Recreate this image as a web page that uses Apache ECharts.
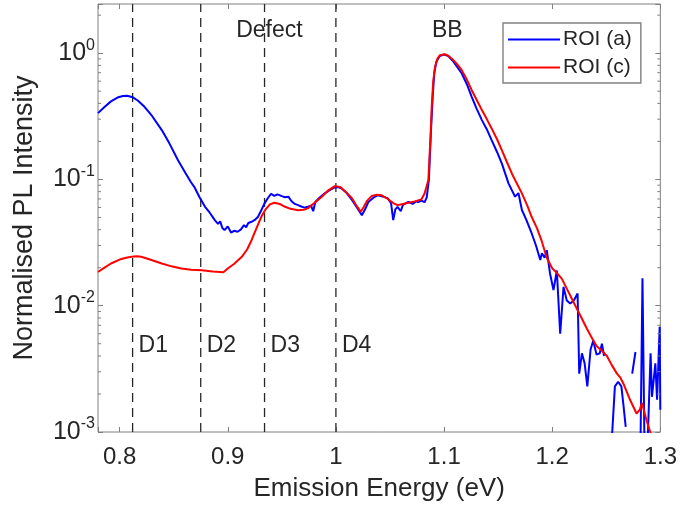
<!DOCTYPE html>
<html>
<head>
<meta charset="utf-8">
<script src="https://cdn.jsdelivr.net/npm/echarts@6/dist/echarts.min.js"></script>
<style>
  html, body { margin: 0; padding: 0; background: #fff; }
  #chart { width: 680px; height: 512px; }
</style>
</head>
<body>
<div id="chart"></div>
<script>
// Photoluminescence spectra, normalised to the band-to-band (BB) peak.
const energyA = [0.780,0.786,0.792,0.798,0.803,0.807,0.812,0.817,0.823,0.830,0.839,0.846,0.854,0.861,0.866,0.869,0.874,0.879,0.883,0.886,0.888,0.891,0.893,0.895,0.897,0.900,0.903,0.906,0.909,0.912,0.915,0.917,0.919,0.922,0.925,0.928,0.931,0.934,0.937,0.940,0.943,0.946,0.950,0.953,0.956,0.959,0.962,0.965,0.968,0.971,0.974,0.977,0.979,0.981,0.985,0.990,0.995,0.999,1.002,1.005,1.010,1.015,1.020,1.024,1.027,1.030,1.035,1.039,1.044,1.048,1.051,1.053,1.055,1.057,1.060,1.062,1.067,1.071,1.074,1.076,1.079,1.082,1.084,1.086,1.088,1.0895,1.091,1.093,1.096,1.100,1.104,1.108,1.112,1.1164,1.121,1.1256,1.130,1.135,1.140,1.144,1.149,1.1534,1.1596,1.1657,1.1688,1.172,1.176,1.181,1.185,1.189,1.1905,1.193,1.195,1.198,1.2012,1.2043,1.2074,1.2105,1.2135,1.2167,1.2200,1.2235,1.2250,1.2275,1.2300,1.2325,1.2355,1.2380,1.2410,1.2440,1.2460,1.2480,1.2505,1.2545,1.2580,1.2610,1.2640,1.2660,1.2680,1.2710,1.2740,1.2770,1.2790,1.2815,1.2835,1.2855,1.2880,1.2910,1.2923,1.2954,1.2970,1.2994,1.3000];
const intensityA = [0.335,0.375,0.415,0.445,0.458,0.460,0.448,0.420,0.376,0.318,0.246,0.193,0.142,0.112,0.095,0.0874,0.072,0.0607,0.055,0.0505,0.0476,0.0445,0.0465,0.0412,0.0397,0.0425,0.0380,0.0392,0.0385,0.0400,0.0435,0.0418,0.0452,0.0462,0.0478,0.0506,0.0570,0.0646,0.0710,0.0770,0.0740,0.0762,0.0738,0.0722,0.0730,0.0672,0.0640,0.0626,0.0610,0.0598,0.0607,0.0620,0.0560,0.0663,0.0720,0.0780,0.0830,0.0864,0.0870,0.0850,0.0780,0.0686,0.0590,0.0520,0.0580,0.0663,0.0720,0.0750,0.0730,0.0707,0.0650,0.0476,0.0580,0.0607,0.0560,0.0630,0.0663,0.0640,0.0670,0.0663,0.0680,0.0660,0.0720,0.100,0.250,0.450,0.700,0.860,0.950,0.975,0.950,0.870,0.780,0.690,0.570,0.451,0.365,0.295,0.245,0.205,0.165,0.134,0.093,0.073,0.078,0.0573,0.0480,0.0375,0.0300,0.0230,0.0260,0.0240,0.0275,0.0180,0.0133,0.0190,0.0060,0.0141,0.0110,0.0104,0.0110,0.0125,0.0029,0.0042,0.0035,0.0023,0.0045,0.0053,0.0041,0.0042,0.0050,0.0040,null,0.0007,0.0023,0.0025,0.0023,0.0016,0.0011,null,0.0029,0.0043,null,0.0006,0.0165,0.0006,0.0007,0.0042,0.0019,0.0035,0.0018,0.0068,0.0015];

const energyC = [0.780,0.786,0.792,0.800,0.806,0.811,0.816,0.820,0.828,0.839,0.848,0.857,0.866,0.876,0.886,0.896,0.900,0.906,0.913,0.918,0.922,0.926,0.931,0.935,0.939,0.943,0.948,0.953,0.958,0.965,0.970,0.974,0.980,0.987,0.993,0.999,1.004,1.009,1.015,1.019,1.023,1.026,1.029,1.033,1.038,1.042,1.048,1.053,1.057,1.062,1.067,1.073,1.079,1.082,1.0855,1.0875,1.0886,1.090,1.0917,1.094,1.0963,1.1009,1.104,1.107,1.1115,1.1164,1.121,1.1256,1.130,1.135,1.140,1.144,1.149,1.1534,1.158,1.1627,1.167,1.172,1.177,1.181,1.186,1.190,1.195,1.200,1.2043,1.209,1.2136,1.219,1.223,1.2259,1.232,1.237,1.241,1.246,1.2506,1.255,1.2599,1.263,1.266,1.272,1.278,1.281,1.283,1.2877,1.2907,1.293];
const intensityC = [0.0185,0.0200,0.0216,0.0232,0.0240,0.0244,0.0246,0.0244,0.0232,0.0216,0.0205,0.0197,0.0193,0.0191,0.0187,0.0184,0.0197,0.0215,0.0244,0.0280,0.0330,0.0400,0.0506,0.0580,0.0635,0.0653,0.0640,0.0607,0.0585,0.0571,0.0575,0.0590,0.0650,0.0730,0.0820,0.0885,0.0870,0.0800,0.0707,0.0620,0.0554,0.0610,0.0680,0.0738,0.0755,0.0750,0.0700,0.0650,0.0626,0.0640,0.0653,0.0670,0.0693,0.0775,0.099,0.220,0.376,0.600,0.780,0.910,0.964,0.980,0.950,0.908,0.830,0.733,0.620,0.509,0.430,0.354,0.295,0.2535,0.208,0.1707,0.138,0.1115,0.094,0.0775,0.062,0.0506,0.041,0.0331,0.0240,0.0198,0.0182,0.0163,0.0136,0.0110,0.0094,0.0084,0.0066,0.0055,0.0048,0.0044,0.0040,0.0034,0.0029,0.0027,0.0024,0.0018,0.0014,0.0015,0.0017,0.0012,0.0010,0.0008];

// Defect-band positions (eV) marked with dashed lines
const defectNames = ['D1', 'D2', 'D3', 'D4'];
const defectEnergy = [0.812, 0.875, 0.934, 1.000];

const seriesNames = ['ROI (a)', 'ROI (c)'];
const xRange = [0.78, 1.3];
const yRange = [0.001, 2.45];

const FONT = '"Liberation Sans", Arial, Helvetica, sans-serif';
const TEXT = '#262626';
const AXIS = '#808080';

function pairs(xs, ys) {
  return xs.map((x, i) => [x, ys[i] == null ? '-' : ys[i]]);
}

// Vertical guide segments spanning the full y range, separated by gaps
const defectGuides = [];
defectEnergy.forEach(e => {
  defectGuides.push([e, yRange[0]], [e, yRange[1]], [e, '-']);
});

// Logarithmic minor tick values: 2..9 x each decade inside the range
const minorTickValues = [];
for (let k = -3; k <= 0; k++) {
  for (let m = 2; m <= 9; m++) {
    const v = m * Math.pow(10, k);
    if (v > yRange[0] && v < yRange[1]) minorTickValues.push(v);
  }
}

function isDecade(v) {
  const e = Math.log10(v);
  return Math.abs(e - Math.round(e)) < 1e-6;
}

const chart = echarts.init(document.getElementById('chart'), null, { renderer: 'canvas' });

const option = {
  backgroundColor: '#fff',
  animation: false,
  textStyle: { fontFamily: FONT, color: TEXT },
  grid: { left: 98, right: 19, top: 4, bottom: 80, show: true, borderColor: AXIS, borderWidth: 1, backgroundColor: 'transparent' },
  legend: {
    data: seriesNames,
    orient: 'vertical',
    left: 503,
    top: 23,
    padding: [6, 9, 5, 5],
    itemGap: 7,
    itemWidth: 52,
    itemHeight: 2,
    icon: 'rect',
    borderColor: '#808080',
    borderWidth: 1.4,
    backgroundColor: '#fff',
    textStyle: { fontFamily: FONT, fontSize: 21, color: TEXT, padding: [0, 0, 0, -2] }
  },
  xAxis: [
    {
      type: 'value', min: xRange[0], max: xRange[1],
      name: 'Emission Energy (eV)', nameLocation: 'middle', nameGap: 44,
      nameTextStyle: { fontFamily: FONT, fontSize: 26, color: TEXT },
      axisLine: { show: false },
      axisTick: { inside: true, length: 5, lineStyle: { color: AXIS } },
      splitLine: { show: false },
      axisLabel: {
        fontFamily: FONT, fontSize: 24, color: TEXT, margin: 13,
        formatter: v => (Math.abs(v * 10 - Math.round(v * 10)) < 1e-6 ? String(+v.toFixed(1)) : '')
      }
    },
    {
      type: 'value', min: xRange[0], max: xRange[1], position: 'top',
      axisLine: { show: false },
      axisTick: { inside: true, length: 5, lineStyle: { color: AXIS } },
      axisLabel: { show: false }, splitLine: { show: false }
    }
  ],
  yAxis: [
    {
      type: 'log', logBase: 10, min: yRange[0], max: yRange[1],
      name: 'Normalised PL Intensity', nameLocation: 'middle', nameGap: 60,
      nameTextStyle: { fontFamily: FONT, fontSize: 27, color: TEXT },
      axisLine: { show: false },
      axisTick: { inside: true, length: 5, lineStyle: { color: AXIS } },
      splitLine: { show: false },
      axisLabel: {
        margin: 3,
        formatter: v => (isDecade(v) ? '{b|10}{s|' + Math.round(Math.log10(v)) + '}' : ''),
        rich: {
          b: { fontFamily: FONT, fontSize: 25, color: TEXT },
          s: { fontFamily: FONT, fontSize: 16, color: TEXT, padding: [0, 0, 16, 0] }
        }
      }
    },
    {
      type: 'log', logBase: 10, min: yRange[0], max: yRange[1], position: 'right',
      axisLine: { show: false },
      axisTick: { inside: true, length: 5, lineStyle: { color: AXIS } },
      axisLabel: { show: false }, splitLine: { show: false }
    }
  ],
  series: [
    {
      // dashed defect guides
      type: 'line', data: defectGuides, silent: true,
      showSymbol: false, symbol: 'none', connectNulls: false, clip: true,
      lineStyle: { color: TEXT, width: 1.3, type: [9, 6] },
      z: 2
    },
    {
      name: seriesNames[0], type: 'line', data: pairs(energyA, intensityA),
      showSymbol: false, symbol: 'none', connectNulls: false, clip: true,
      lineStyle: { color: '#0000ff', width: 2 }, itemStyle: { color: '#0000ff' },
      z: 3
    },
    {
      name: seriesNames[1], type: 'line', data: pairs(energyC, intensityC),
      showSymbol: false, symbol: 'none', clip: true,
      lineStyle: { color: '#ff0000', width: 2 }, itemStyle: { color: '#ff0000' },
      z: 4
    },
    {
      // minor ticks on the left and right log axes
      type: 'custom', silent: true, clip: false, z: 5,
      data: minorTickValues.map(v => [xRange[0], v]),
      encode: { x: 0, y: 1 },
      renderItem: (params, api) => {
        const v = api.value(1);
        const l = api.coord([xRange[0], v]);
        const r = api.coord([xRange[1], v]);
        const style = { stroke: AXIS, lineWidth: 1 };
        return {
          type: 'group',
          children: [
            { type: 'line', shape: { x1: l[0], y1: l[1], x2: l[0] + 3, y2: l[1] }, style },
            { type: 'line', shape: { x1: r[0], y1: r[1], x2: r[0] - 3, y2: r[1] }, style }
          ]
        };
      }
    }
  ]
};

chart.setOption(option);

// Text annotations anchored in data coordinates
const defectLabelLevel = 0.0048;
const headerLevel = 1.52;
const graphics = [];
defectNames.forEach((name, i) => {
  const p = chart.convertToPixel({ gridIndex: 0 }, [defectEnergy[i], defectLabelLevel]);
  graphics.push({
    type: 'text', x: p[0] + 6, y: p[1],
    style: { text: name, font: '23px ' + FONT, fill: TEXT, textAlign: 'left', textVerticalAlign: 'middle' }
  });
});
[['Defect', 0.9385], ['BB', 1.103]].forEach(([txt, e]) => {
  const p = chart.convertToPixel({ gridIndex: 0 }, [e, headerLevel]);
  graphics.push({
    type: 'text', x: p[0], y: p[1],
    style: { text: txt, font: '23px ' + FONT, fill: TEXT, textAlign: 'center', textVerticalAlign: 'middle' }
  });
});
chart.setOption({ graphic: graphics });
</script>
</body>
</html>
